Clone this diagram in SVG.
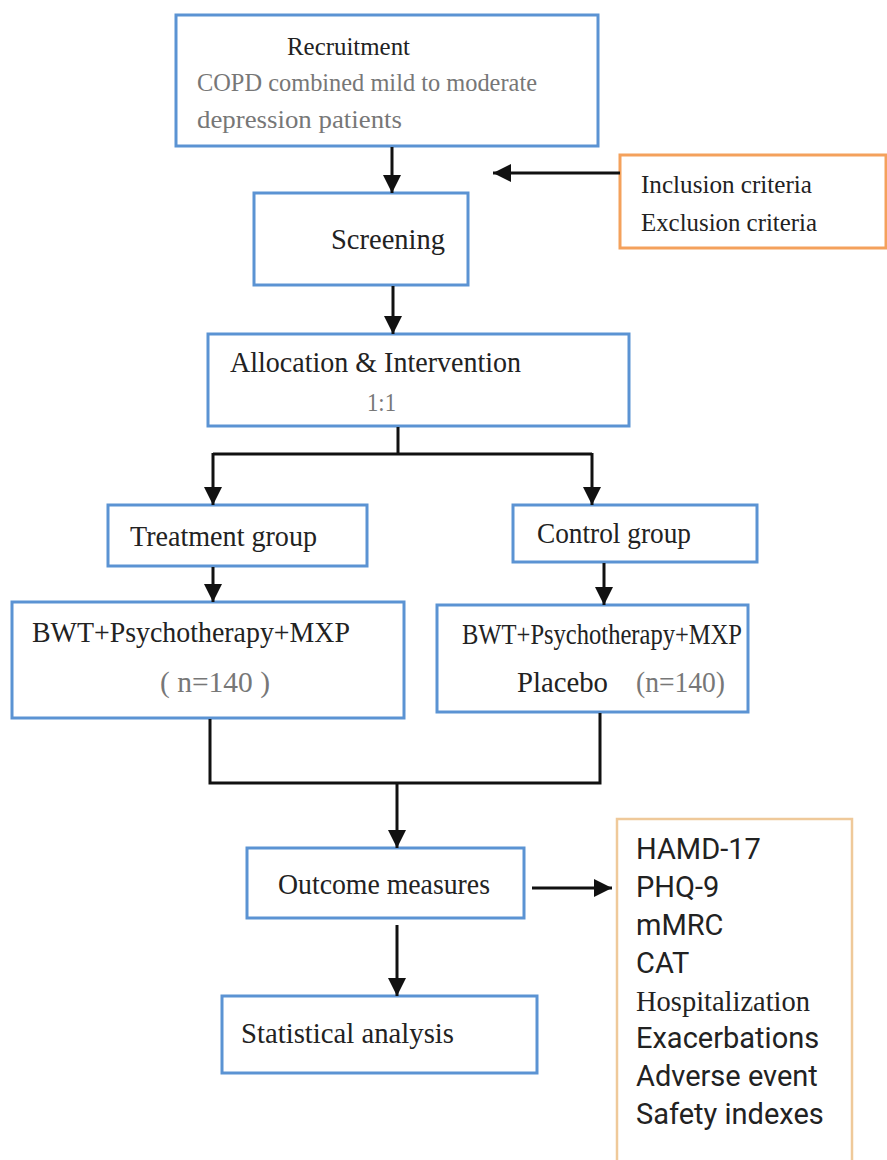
<svg xmlns="http://www.w3.org/2000/svg" width="887" height="1160" viewBox="0 0 887 1160">
<style>
.box{fill:#fff;stroke:#5b93d3;stroke-width:3}
.obox{fill:#fff;stroke:#f4a15c;stroke-width:3}
.tbox{fill:#fff;stroke:#efc99a;stroke-width:2.5}
text{white-space:pre}
.t{font-family:"Liberation Serif",serif;font-size:30px;fill:#222}
.m{font-family:"Liberation Serif",serif;font-size:26px;fill:#222}
.g{font-family:"Liberation Serif",serif;font-size:26px;fill:#777}
.g2{font-family:"Liberation Serif",serif;font-size:29px;fill:#777}
.s{font-family:Roboto,"Liberation Sans",sans-serif;font-size:29px;fill:#222}
.c{fill:none;stroke:#111;stroke-width:3}
</style>
<defs>
<marker id="a" viewBox="0 0 10 10" refX="10" refY="5" markerWidth="18" markerHeight="20" markerUnits="userSpaceOnUse" orient="auto">
<path d="M0,0 L10,5 L0,10 z" fill="#111"/>
</marker>
</defs>
<rect width="887" height="1160" fill="#fff"/>

<g id="recruitment">
<rect class="box" x="176" y="15" width="422" height="131"/>
<text class="m" x="287" y="55" textLength="123" lengthAdjust="spacingAndGlyphs">Recruitment</text>
<text class="g" x="197" y="91" textLength="340" lengthAdjust="spacingAndGlyphs">COPD combined mild to moderate</text>
<text class="g" x="197" y="128" textLength="205" lengthAdjust="spacingAndGlyphs">depression patients</text>
</g>

<g id="criteria">
<rect class="obox" x="620" y="155" width="266" height="93"/>
<text class="m" x="641" y="193" textLength="171" lengthAdjust="spacingAndGlyphs">Inclusion criteria</text>
<text class="m" x="641" y="231" textLength="176" lengthAdjust="spacingAndGlyphs">Exclusion criteria</text>
</g>

<g id="screening">
<rect class="box" x="254" y="193" width="214" height="92"/>
<text class="t" x="331" y="249" textLength="114" lengthAdjust="spacingAndGlyphs">Screening</text>
</g>

<g id="allocation">
<rect class="box" x="208" y="334" width="421" height="92"/>
<text class="t" x="230" y="372" textLength="291" lengthAdjust="spacingAndGlyphs">Allocation &amp; Intervention</text>
<text class="g" x="367" y="411" textLength="29" lengthAdjust="spacingAndGlyphs">1:1</text>
</g>

<g id="treatment">
<rect class="box" x="108" y="505" width="259" height="61"/>
<text class="t" x="130" y="546" textLength="187" lengthAdjust="spacingAndGlyphs">Treatment group</text>
</g>

<g id="control">
<rect class="box" x="513" y="505" width="244" height="57"/>
<text class="t" x="537" y="543" textLength="154" lengthAdjust="spacingAndGlyphs">Control group</text>
</g>

<g id="treatment-arm">
<rect class="box" x="12" y="602" width="392" height="116"/>
<text class="t" x="32" y="642" textLength="318" lengthAdjust="spacingAndGlyphs">BWT+Psychotherapy+MXP</text>
<text class="g2" x="160" y="692" textLength="110" lengthAdjust="spacingAndGlyphs">( n=140 )</text>
</g>

<g id="control-arm">
<rect class="box" x="437" y="605" width="311" height="107"/>
<text class="t" x="462" y="644" textLength="280" lengthAdjust="spacingAndGlyphs">BWT+Psychotherapy+MXP</text>
<text class="t" x="517" y="692" textLength="91" lengthAdjust="spacingAndGlyphs">Placebo</text>
<text class="g2" x="636" y="692" textLength="89" lengthAdjust="spacingAndGlyphs">(n=140)</text>
</g>

<g id="outcome">
<rect class="box" x="247" y="848" width="277" height="70"/>
<text class="t" x="278" y="894" textLength="212" lengthAdjust="spacingAndGlyphs">Outcome measures</text>
</g>

<g id="measures">
<rect class="tbox" x="617" y="819" width="235" height="350"/>
<text class="s" x="636" y="859">HAMD-17</text>
<text class="s" x="636" y="897">PHQ-9</text>
<text class="s" x="636" y="935">mMRC</text>
<text class="s" x="636" y="973">CAT</text>
<text class="t" x="636" y="1011" textLength="174" lengthAdjust="spacingAndGlyphs">Hospitalization</text>
<text class="s" x="636" y="1048">Exacerbations</text>
<text class="s" x="636" y="1086">Adverse event</text>
<text class="s" x="636" y="1124">Safety indexes</text>
</g>

<g id="statistics">
<rect class="box" x="222" y="996" width="315" height="77"/>
<text class="t" x="241" y="1043" textLength="213" lengthAdjust="spacingAndGlyphs">Statistical analysis</text>
</g>

<g id="connectors">
<path class="c" d="M392,147 V193" marker-end="url(#a)"/>
<path class="c" d="M620,173 H493" marker-end="url(#a)"/>
<path class="c" d="M393,286 V334" marker-end="url(#a)"/>
<path class="c" d="M398,427 V454"/>
<path class="c" d="M213,454 H592"/>
<path class="c" d="M213,453 V505" marker-end="url(#a)"/>
<path class="c" d="M592,453 V505" marker-end="url(#a)"/>
<path class="c" d="M213,567 V602" marker-end="url(#a)"/>
<path class="c" d="M604,563 V605" marker-end="url(#a)"/>
<path class="c" d="M210,719 V783 H600 V713"/>
<path class="c" d="M397,783 V848" marker-end="url(#a)"/>
<path class="c" d="M532,888 H612" marker-end="url(#a)"/>
<path class="c" d="M397,925 V996" marker-end="url(#a)"/>
</g>
</svg>
